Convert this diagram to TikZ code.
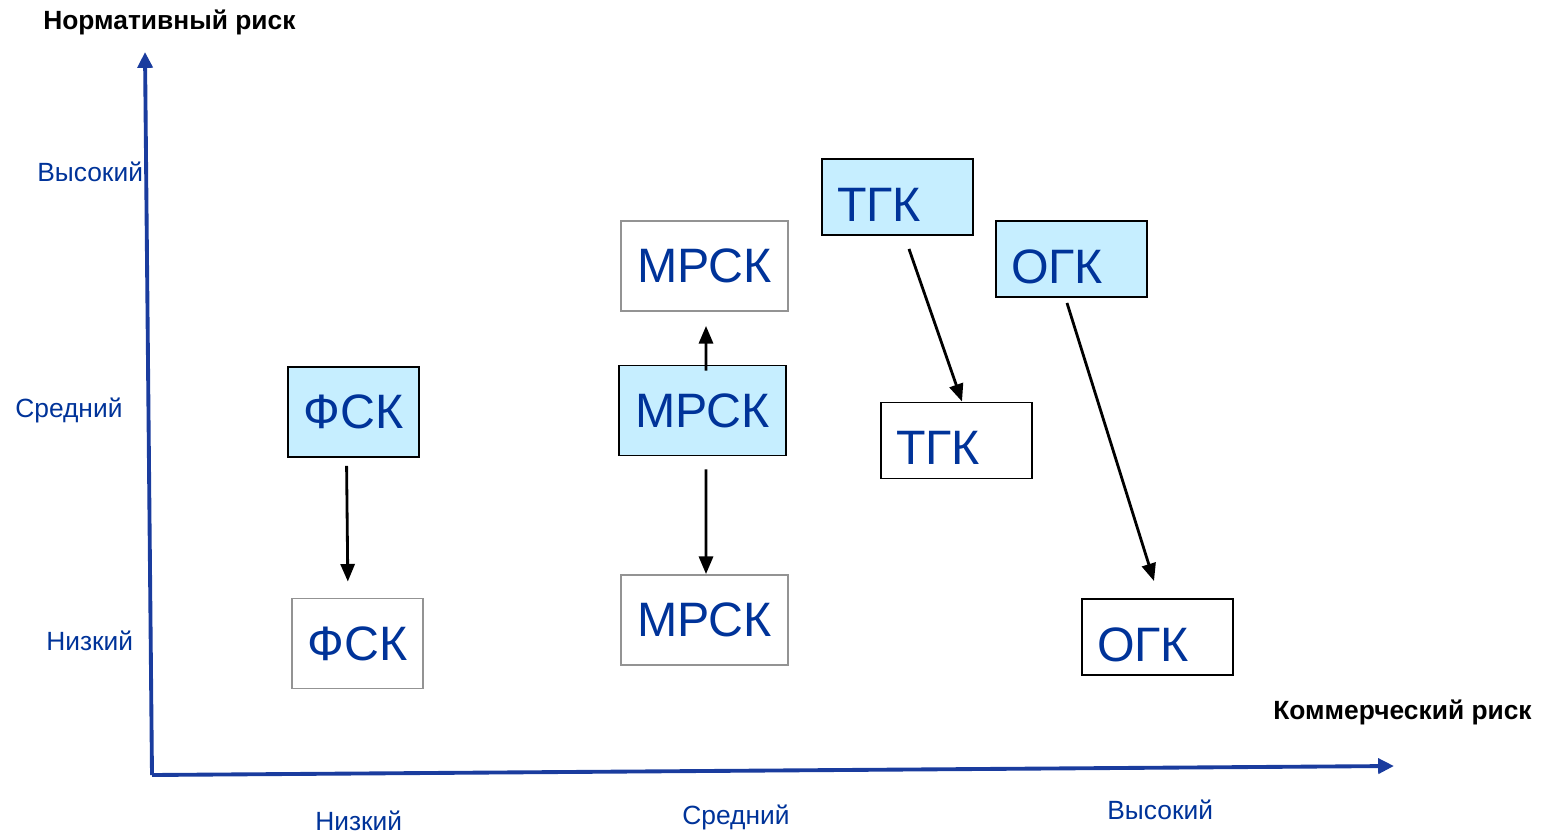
\documentclass[tikz,border=0pt]{standalone}
\usepackage{fontspec}
\setmainfont{Liberation Sans}
\usetikzlibrary{arrows.meta}
\definecolor{riskblue}{HTML}{003399}
\definecolor{boxfill}{HTML}{C6EEFF}
\definecolor{axisblue}{HTML}{1A3C9E}
\tikzset{>={Triangle[length=10pt,width=8pt]}}
\tikzset{
  box/.style={line width=1.1pt, minimum height=1.8cm, inner sep=0pt, text=riskblue, font=\fontsize{27.5}{30}\selectfont},
  cur/.style={box, fill=boxfill, draw=black},
  fut/.style={box, draw=gray!85},
  gen/.style={minimum height=1.52cm, text width=2.42cm, align=left, inner xsep=0.3cm, text height=0.97cm, text depth=0cm},
  lvl/.style={inner sep=0pt, anchor=west, text=riskblue, font=\fontsize{15}{15}\selectfont},
  axlabel/.style={inner sep=0pt, font=\bfseries\fontsize{15}{15}\selectfont},
  axis/.style={axisblue, line width=2.2pt, -{Triangle[length=9pt,width=8.5pt]}},
  move/.style={->, line width=1.6pt}
}

\begin{document}
\begin{tikzpicture}[x=0.02cm, y=-0.02cm]
    \useasboundingbox (0,0) rectangle (1542,835);
    \coordinate (origin) at (152,775);
    \coordinate (ytip) at (145,52);
    \coordinate (xtip) at (1394,766);
    \draw[axis] (origin) -- (ytip);
    \draw[axis] (origin) -- (xtip);
    \node[axlabel, anchor=west] (ytitle) at (43,22) {Нормативный риск};
    \node[axlabel, anchor=east] (xtitle) at (1532,712) {Коммерческий риск};
    \node[lvl] (yhigh) at (37,172) {Высокий};
    \node[lvl] (ymid) at (15,410) {Средний};
    \node[lvl] (ylow) at (46,641) {Низкий};
    \node[lvl] (xlow) at (315,821) {Низкий};
    \node[lvl] (xmid) at (682,817) {Средний};
    \node[lvl] (xhigh) at (1107,810) {Высокий};
    \node[cur, minimum width=2.62cm] (fsk1) at (353.5,412) {ФСК};
    \node[fut, minimum width=2.62cm] (fsk2) at (357.5,643.5) {ФСК};
    \node[fut, minimum width=3.34cm] (mrsk0) at (704.5,266) {МРСК};
    \node[cur, minimum width=3.34cm] (mrsk1) at (702.5,410.5) {МРСК};
    \node[fut, minimum width=3.34cm] (mrsk2) at (704.5,620) {МРСК};
    \node[cur, gen] (tgk1) at (897.5,197) {ТГК};
    \node[box, gen, draw=black] (tgk2) at (956.5,440.5) {ТГК};
    \node[cur, gen] (ogk1) at (1071.5,259) {ОГК};
    \node[box, gen, draw=black] (ogk2) at (1157.5,637) {ОГК};
    \draw[move, shorten <=0.16cm, shorten >=0.32cm] ([xshift=-0.14cm]fsk1.south) -- ([xshift=-0.19cm]fsk2.north);
    \draw[move, shorten <=-0.12cm, shorten >=0.28cm] ([xshift=0.07cm]mrsk1.north) -- ([xshift=0.03cm]mrsk0.south);
    \draw[move, shorten <=0.26cm] ([xshift=0.07cm]mrsk1.south) -- ([xshift=0.03cm]mrsk2.north);
    \draw[move] ([xshift=0.23cm,yshift=-0.26cm]tgk1.south) -- ([xshift=0.11cm]tgk2.north);
    \draw[move] ([xshift=-0.09cm,yshift=-0.1cm]ogk1.south) -- ([xshift=-0.07cm,yshift=0.34cm]ogk2.north);
    \end{tikzpicture}
\end{document}
